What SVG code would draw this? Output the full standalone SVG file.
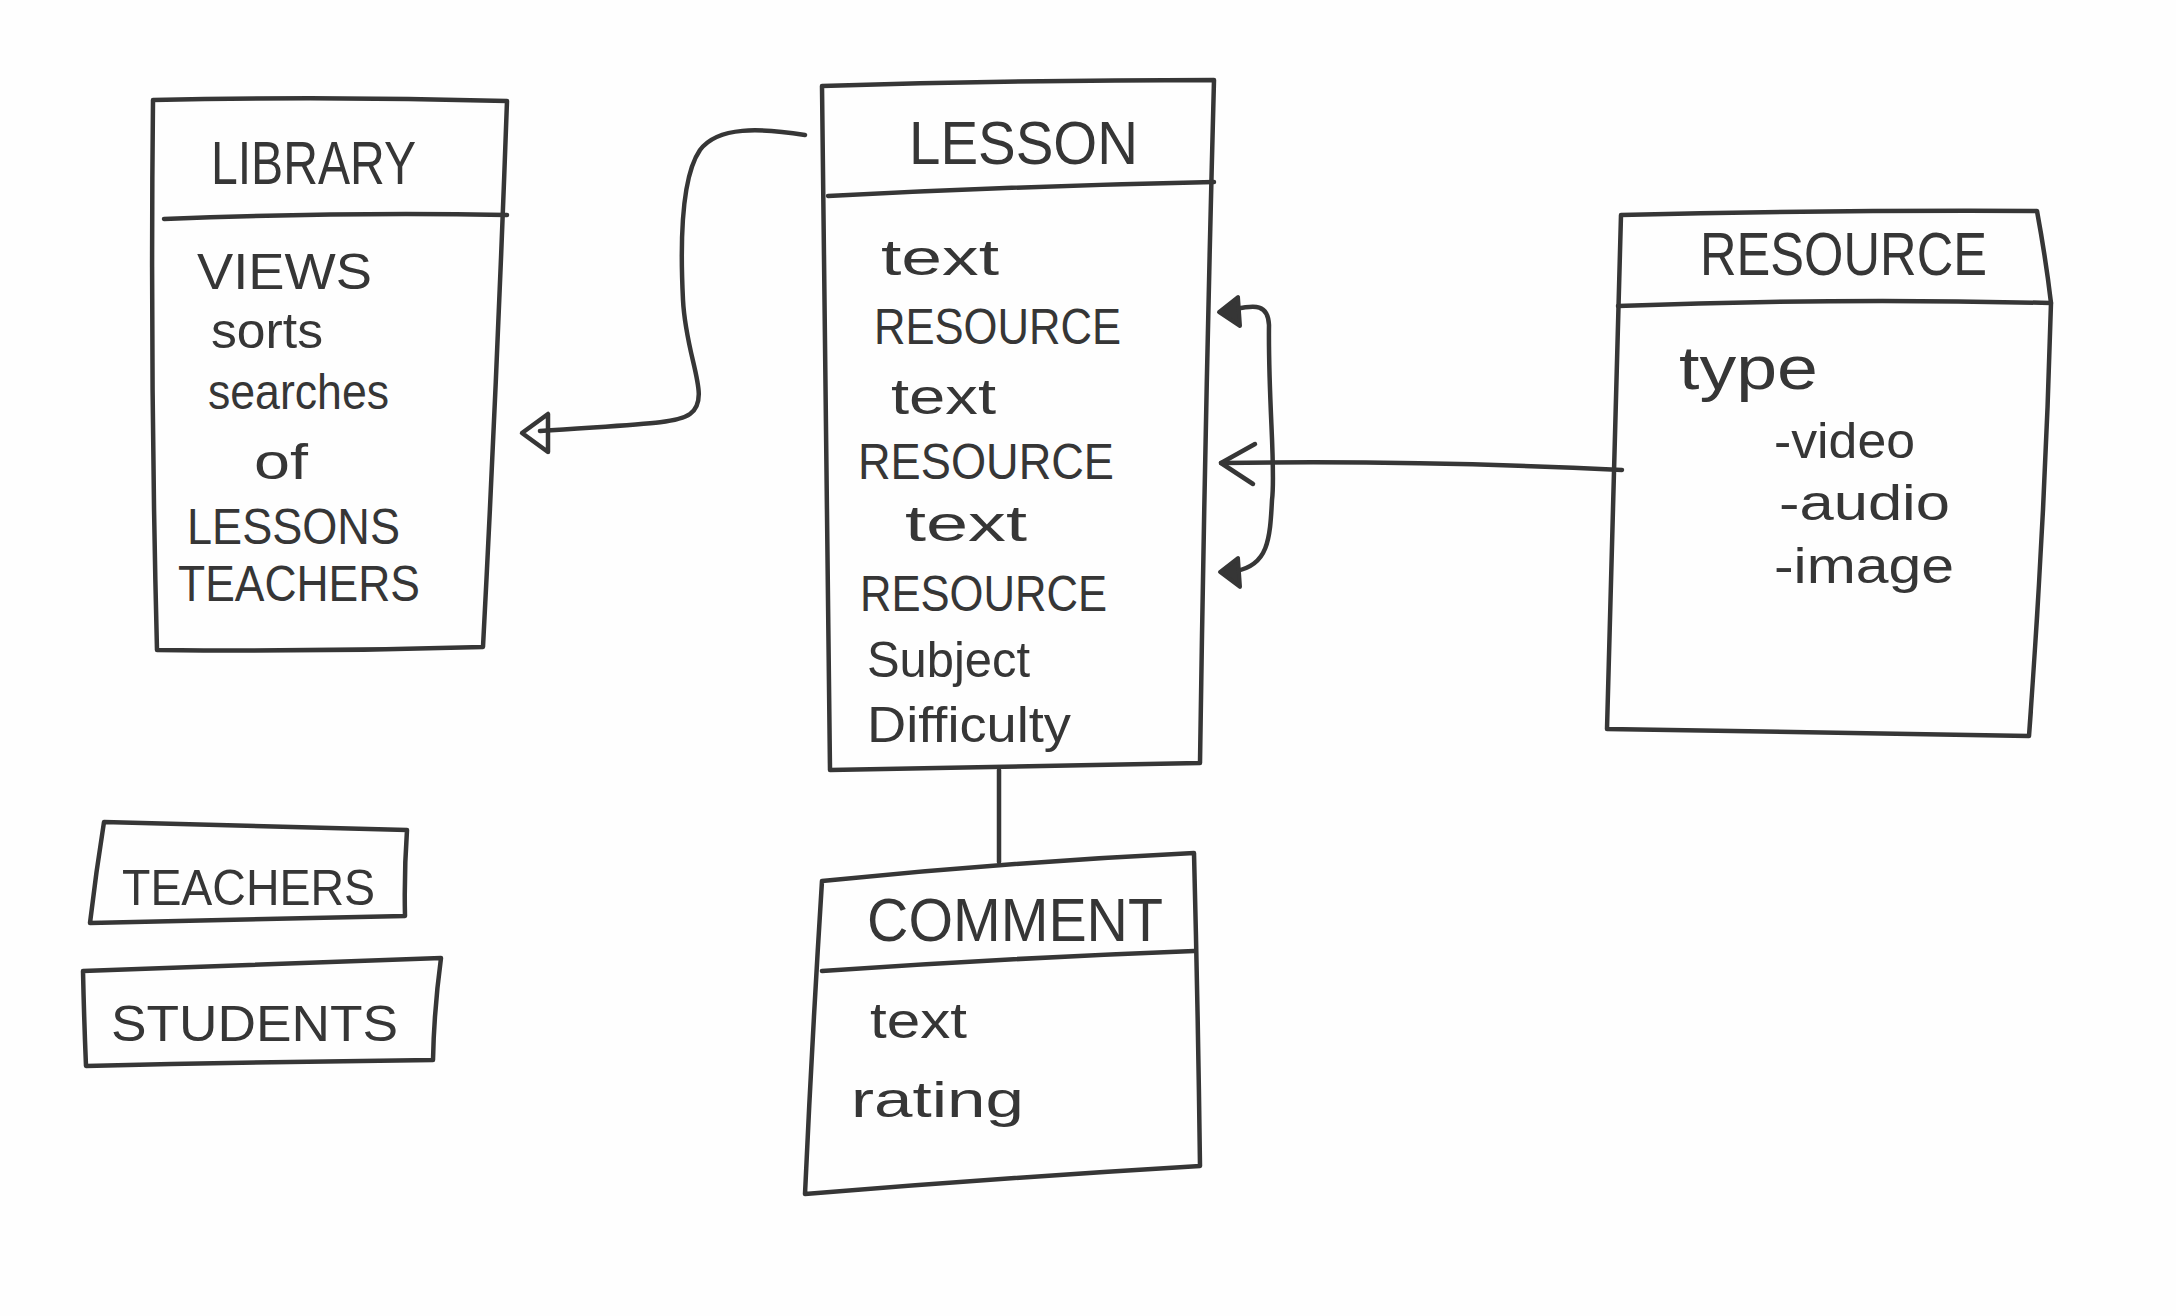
<svg xmlns="http://www.w3.org/2000/svg" width="2176" height="1316" viewBox="0 0 2176 1316">
<defs>
<style>
.ln{fill:none;stroke:#363636;stroke-width:4.5;stroke-linecap:round;stroke-linejoin:round}
.ah{fill:#363636;stroke:#363636;stroke-width:4;stroke-linejoin:round}
.t{font-family:"Liberation Sans","DejaVu Sans",sans-serif;fill:#363636}
.ti{font-size:62px}
.at{font-size:50px}
</style>
</defs>
<rect width="2176" height="1316" fill="#fefefe"/>

<g id="library">
<path class="ln" d="M153,100 Q330,96 507,101 Q497,380 483,647 Q320,652 157,650 Q150,380 153,100 Z"/>
<path class="ln" d="M164,219 Q340,212 507,215"/>
<text class="t ti" x="211" y="184" textLength="205" lengthAdjust="spacingAndGlyphs">LIBRARY</text>
<text class="t at" x="197" y="289" textLength="175" lengthAdjust="spacingAndGlyphs">VIEWS</text>
<text class="t at" x="211" y="348" textLength="112" lengthAdjust="spacingAndGlyphs">sorts</text>
<text class="t at" x="208" y="409" textLength="181" lengthAdjust="spacingAndGlyphs">searches</text>
<text class="t at" x="254" y="479" textLength="54" lengthAdjust="spacingAndGlyphs">of</text>
<text class="t at" x="187" y="544" textLength="213" lengthAdjust="spacingAndGlyphs">LESSONS</text>
<text class="t at" x="178" y="601" textLength="242" lengthAdjust="spacingAndGlyphs">TEACHERS</text>
</g>

<g id="lesson">
<path class="ln" d="M822,86 Q1020,80 1214,80 Q1205,420 1200,763 Q1015,766 830,770 Q826,430 822,86 Z"/>
<path class="ln" d="M828,196 Q1020,186 1214,182"/>
<text class="t ti" x="909" y="164" textLength="229" lengthAdjust="spacingAndGlyphs">LESSON</text>
<text class="t at" x="881" y="275" textLength="118" lengthAdjust="spacingAndGlyphs">text</text>
<text class="t at" x="874" y="344" textLength="247" lengthAdjust="spacingAndGlyphs">RESOURCE</text>
<text class="t at" x="891" y="414" textLength="105" lengthAdjust="spacingAndGlyphs">text</text>
<text class="t at" x="858" y="479" textLength="256" lengthAdjust="spacingAndGlyphs">RESOURCE</text>
<text class="t at" x="905" y="541" textLength="122" lengthAdjust="spacingAndGlyphs">text</text>
<text class="t at" x="860" y="611" textLength="247" lengthAdjust="spacingAndGlyphs">RESOURCE</text>
<text class="t at" x="867" y="677" textLength="163" lengthAdjust="spacingAndGlyphs">Subject</text>
<text class="t at" x="867" y="742" textLength="204" lengthAdjust="spacingAndGlyphs">Difficulty</text>
</g>

<g id="resource">
<path class="ln" d="M1621,215 Q1830,210 2037,211 Q2046,260 2051,303 Q2045,520 2029,736 Q1820,733 1607,729 Q1615,470 1621,215 Z"/>
<path class="ln" d="M1618,306 Q1830,298 2051,303"/>
<text class="t ti" x="1700" y="275" textLength="287" lengthAdjust="spacingAndGlyphs">RESOURCE</text>
<text class="t" font-size="62" x="1679" y="389" textLength="139" lengthAdjust="spacingAndGlyphs">type</text>
<text class="t at" x="1774" y="458" textLength="141" lengthAdjust="spacingAndGlyphs">-video</text>
<text class="t at" x="1779" y="520" textLength="171" lengthAdjust="spacingAndGlyphs">-audio</text>
<text class="t at" x="1774" y="583" textLength="180" lengthAdjust="spacingAndGlyphs">-image</text>
</g>

<g id="comment">
<path class="ln" d="M822,881 Q1010,862 1194,853 Q1198,1010 1200,1166 Q1000,1178 805,1194 Q812,1040 822,881 Z"/>
<path class="ln" d="M822,971 Q1010,958 1194,951"/>
<text class="t ti" x="867" y="941" textLength="296" lengthAdjust="spacingAndGlyphs">COMMENT</text>
<text class="t at" x="870" y="1038" textLength="97" lengthAdjust="spacingAndGlyphs">text</text>
<text class="t at" x="851" y="1117" textLength="173" lengthAdjust="spacingAndGlyphs">rating</text>
</g>

<g id="teachers">
<path class="ln" d="M104,822 Q260,826 407,830 Q404,873 405,916 Q250,920 90,923 Q96,872 104,822 Z"/>
<text class="t at" x="122" y="905" textLength="253" lengthAdjust="spacingAndGlyphs">TEACHERS</text>
</g>

<g id="students">
<path class="ln" d="M83,971 Q260,964 441,958 Q434,1010 433,1060 Q260,1062 86,1066 Q84,1018 83,971 Z"/>
<text class="t at" x="111" y="1041" textLength="287" lengthAdjust="spacingAndGlyphs">STUDENTS</text>
</g>

<g id="connectors">
<path class="ln" d="M805,135 C760,128 718,126 700,150 C682,176 680,240 683,300 C686,360 712,398 690,414 C676,424 640,424 540,431"/>
<path class="ln" d="M522,433 L548,414 L548,452 Z" fill="#fefefe"/>
<path class="ln" d="M999,770 L999,862"/>
<path class="ln" d="M1622,470 Q1420,460 1221,463"/>
<path class="ln" d="M1255,444 L1221,463 L1253,484"/>
<path class="ln" d="M1236,309 C1255,305 1268,304 1269,325 C1268,400 1276,470 1272,500 C1270,540 1268,565 1236,571"/>
<path class="ah" d="M1219,312 L1238,297 L1240,326 Z"/>
<path class="ah" d="M1220,572 L1238,558 L1240,587 Z"/>
</g>
</svg>
